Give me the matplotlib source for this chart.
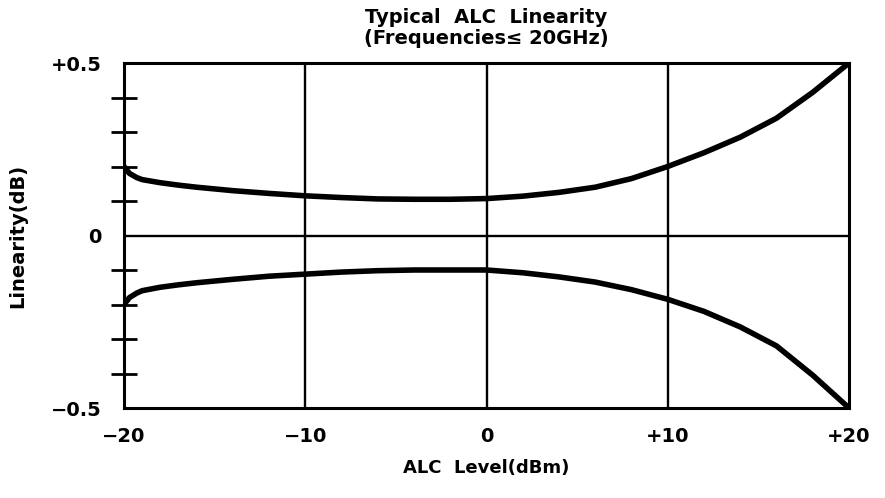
import matplotlib.pyplot as plt

# values
alc_level = [-20, -19.7, -19.3, -19, -18, -17, -16, -14, -12, -10, -8, -6, -4, -2, 0,
             2, 4, 6, 8, 10, 12, 14, 16, 18, 20]
upper = [0.200, 0.180, 0.168, 0.162, 0.153, 0.146, 0.140, 0.130, 0.122, 0.115, 0.110,
         0.106, 0.105, 0.105, 0.107, 0.114, 0.125, 0.140, 0.165, 0.200, 0.240, 0.285,
         0.340, 0.415, 0.500]
lower = [-0.200, -0.180, -0.167, -0.160, -0.150, -0.143, -0.137, -0.127, -0.118, -0.112,
         -0.106, -0.102, -0.100, -0.100, -0.100, -0.108, -0.120, -0.135, -0.157, -0.185,
         -0.220, -0.265, -0.320, -0.405, -0.500]

x_ticks = [-20, -10, 0, 10, 20]
x_labels = ['\u221220', '\u221210', '0', '+10', '+20']
y_ticks = [-0.5, 0, 0.5]
y_labels = ['\u22120.5', '0', '+0.5']
y_minor = [-0.4, -0.3, -0.2, -0.1, 0.1, 0.2, 0.3, 0.4]

plt.rcParams['font.family'] = ['DejaVu Sans']
plt.rcParams['font.weight'] = 'bold'

fig = plt.figure(figsize=[8.85, 4.98], dpi=100)
ax = fig.add_axes([124 / 885, 1 - 408 / 498, (849 - 124) / 885, (408 - 63) / 498])

ax.plot(alc_level, upper, color='k', linewidth=4.0, solid_capstyle='round', solid_joinstyle='round')
ax.plot(alc_level, lower, color='k', linewidth=4.0, solid_capstyle='round', solid_joinstyle='round')

for xv in [-10, 0, 10]:
    ax.axvline(xv, color='k', linewidth=1.7)
ax.axhline(0, color='k', linewidth=1.7)

ax.set_xlim(-20, 20)
ax.set_ylim(-0.5, 0.5)
for s in ax.spines.values():
    s.set_linewidth(2.2)

ax.set_xticks(x_ticks)
ax.set_xticklabels(x_labels, fontsize=14, fontweight='bold')
ax.set_yticks(y_ticks)
ax.set_yticklabels(y_labels, fontsize=14, fontweight='bold')
ax.set_yticks(y_minor, minor=True)
ax.tick_params(axis='x', length=0, pad=14)
ax.tick_params(axis='y', which='major', length=0, pad=16)
ax.tick_params(axis='y', which='minor', direction='inout', length=19, width=2.0)

ax.set_xlabel('ALC  Level(dBm)', fontsize=13, fontweight='bold', labelpad=9)
ax.set_ylabel('Linearity(dB)', fontsize=14, fontweight='bold', labelpad=17)
ax.set_title('Typical  ALC  Linearity\n(Frequencies\u2264 20GHz)', fontsize=14,
             fontweight='bold', linespacing=1.1, pad=14)

fig.savefig('out.png', dpi=100)
